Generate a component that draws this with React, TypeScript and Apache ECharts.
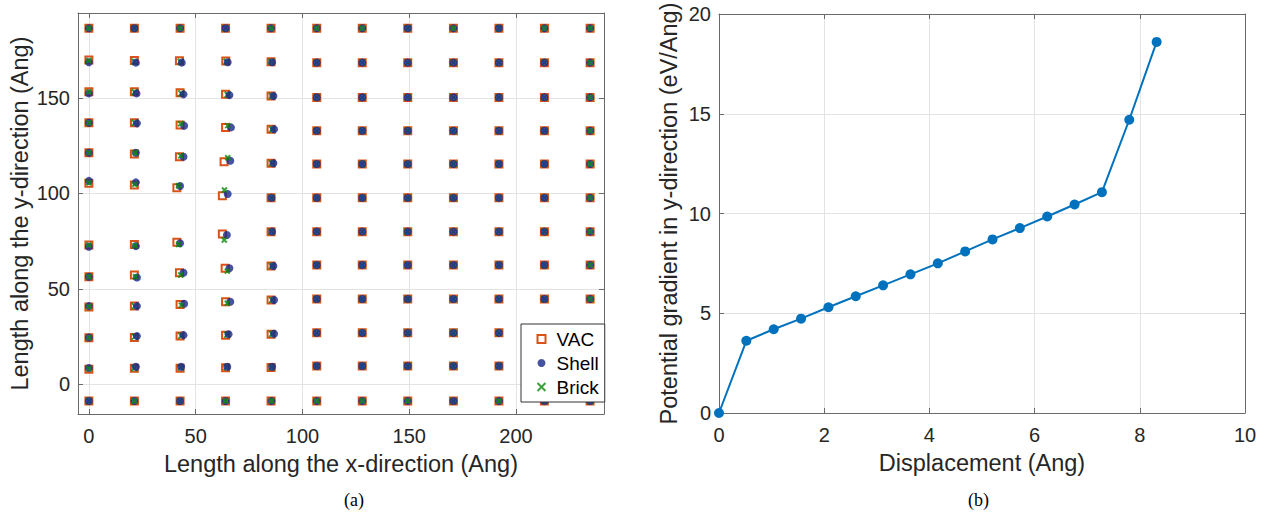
import React, { useEffect, useRef } from "react";
import * as echarts from "echarts";

// ---------- Panel (a): atom positions ----------
// Regular (undeformed) lattice columns and rows
const gridColX = [106.7, 128, 149.3, 170.7, 192, 213.3, 234.7];
const gridRowY = [-8.7, 9.6, 27, 44.7, 62.5, 80, 97.7, 115.4, 132.8, 150.3, 168.5, 186.5];

// Deformed region near the crack (first five columns), bottom row to top row
const vacLeft: number[][][] = [
  [[0, -8.7], [0, 7.9], [0, 24.4], [0, 40.6], [0, 56.4], [0, 73], [0, 105.3], [0, 121.3], [0, 137], [0, 153.3], [0, 169.9], [0, 186.5]],
  [[21.3, -8.7], [21.3, 8.4], [21.3, 24.6], [21.3, 41], [21.3, 57.3], [21.3, 73.3], [21.3, 104.4], [21.3, 120.6], [21.3, 137], [21.3, 153.3], [21.3, 169.6], [21.3, 186.5]],
  [[42.7, -8.7], [42.7, 8.4], [42.7, 25.3], [42.7, 41.9], [42.4, 58.5], [41.2, 74.4], [41.2, 103], [42.4, 119.2], [42.7, 135.8], [42.7, 152.7], [42.4, 169.5], [42.7, 186.5]],
  [[64, -8.7], [64, 8.7], [64, 25.8], [64, 43.3], [63.8, 60.8], [62.5, 78.7], [62.5, 98.8], [63.3, 116.6], [64, 134.6], [64, 151.9], [64.1, 169.4], [64, 186.5]],
  [[85.3, -8.7], [85.3, 8.9], [85.3, 26.3], [85.3, 44.2], [85.3, 62], [85.3, 80], [85.3, 97.7], [85.3, 115.8], [85.3, 133.6], [85.3, 151], [85.3, 169], [85.3, 186.5]],
];
const shellLeft: number[][][] = [
  [[0, -8.7], [0, 8.6], [0, 24.6], [0, 41], [0, 56.4], [0, 72.1], [0, 106.6], [0, 121.3], [0, 137], [0, 152.4], [0, 168.7], [0, 186.5]],
  [[21.3, -8.7], [22, 9.2], [22.5, 25.3], [22.5, 41], [22.5, 56], [22, 72.4], [22, 105.8], [22, 121.3], [22.5, 136.7], [22.3, 152.4], [22, 168.5], [21.3, 186.5]],
  [[42.7, -8.7], [43.2, 9.2], [44.3, 25.8], [44.6, 42.2], [44.3, 58.5], [42.7, 73.9], [42.7, 103.9], [44.3, 119.2], [44.6, 135.5], [44.3, 151.9], [43.5, 168.5], [42.7, 186.5]],
  [[64, -8.7], [64.8, 9.2], [65.4, 26.3], [66.2, 43.3], [65.8, 60.8], [64.6, 78.2], [65, 99.7], [66.2, 117.1], [66.5, 134.6], [65.8, 151.5], [65, 168.7], [64, 186.5]],
  [[85.5, -8.7], [85.8, 9.2], [86.7, 26.5], [86.7, 44.2], [86.4, 62], [85.8, 80], [85.5, 97.7], [86.4, 115.8], [86.7, 133.6], [86.4, 151], [85.8, 168.7], [85.3, 186.5]],
];
const brickLeft: number[][][] = [
  [[0, -8.7], [0, 8.2], [0, 24.5], [0, 40.8], [0, 56.4], [0, 73], [0, 105.6], [0, 121.3], [0, 137], [0, 153.2], [0, 169.6], [0, 186.5]],
  [[21.3, -8.7], [21.3, 8.6], [21.5, 25], [21.5, 41], [21.8, 56.4], [21.6, 72.6], [21.5, 104.8], [21.7, 121.3], [21.5, 137], [21.5, 153], [21.5, 169], [21.3, 186.5]],
  [[42.7, -8.7], [43, 8.8], [43.3, 25.5], [43.3, 41.5], [43, 57.3], [42, 73.3], [42, 104], [43, 119.7], [43, 136.5], [43.3, 152.3], [43, 169], [42.7, 186.5]],
  [[64, -8.7], [64.5, 9], [64.8, 26], [64.8, 42.5], [64.8, 59.3], [63.4, 75.6], [63.5, 101.8], [65, 118.7], [65, 135.5], [65, 151.7], [64.5, 169], [64, 186.5]],
  [[85.6, -8.7], [85.6, 9], [85.8, 26.4], [85.8, 44.2], [85.7, 62], [85.5, 80], [85.5, 97.7], [85.7, 115.8], [85.8, 133.6], [85.7, 151], [85.5, 169], [85.3, 186.5]],
];
// Lattice sites [column, row] where the Brick marker is seen on top
const brickOnTop: number[][] = [
  [0, 1], [0, 2], [0, 3], [0, 4], [0, 5], [0, 6], [0, 7], [0, 8], [0, 9], [0, 10], [0, 11],
  [1, 0], [1, 4], [1, 5], [1, 6], [1, 7],
  [2, 3], [2, 4], [2, 5], [2, 6], [2, 7], [2, 8], [2, 11],
  [3, 0], [3, 3], [3, 4], [3, 5], [3, 6], [3, 7], [3, 8],
  [4, 0], [4, 11], [5, 0], [5, 11], [6, 0], [6, 11], [7, 0], [8, 11], [9, 0], [10, 11],
  [11, 3], [11, 4], [11, 5], [11, 6], [11, 7], [11, 8], [11, 9], [11, 10], [11, 11],
];
const xTicksA = [0, 50, 100, 150, 200];
const yTicksA = [0, 50, 100, 150];

// ---------- Panel (b): potential gradient ----------
const displacement = [0, 0.52, 1.04, 1.56, 2.08, 2.6, 3.12, 3.64, 4.16, 4.68, 5.2, 5.72, 6.24, 6.76, 7.28, 7.8, 8.32];
const gradient = [0, 3.62, 4.2, 4.73, 5.3, 5.85, 6.4, 6.95, 7.5, 8.1, 8.7, 9.27, 9.85, 10.45, 11.07, 14.7, 18.6];

function latticePoints(left: number[][][]) {
  const pts: { c: number; r: number; v: number[] }[] = [];
  left.forEach((col, c) => col.forEach((p, r) => pts.push({ c, r, v: p })));
  gridColX.forEach((x, i) => gridRowY.forEach((y, r) => pts.push({ c: i + left.length, r, v: [x, y] })));
  return pts;
}

const FONT = "Liberation Sans";
const TXT = "#262626";
const BOX = "#6a6a6a";
const GRIDC = "#e3e3e3";

export default function App() {
  const ref = useRef<HTMLDivElement>(null);
  useEffect(() => {
    if (!ref.current) return;
    const chart = echarts.init(ref.current, undefined, { renderer: "svg" });

    const vac = latticePoints(vacLeft).map((p) => p.v);
    const shell = latticePoints(shellLeft).map((p) => p.v);
    const topKeys = new Set(brickOnTop.map(([c, r]) => c + "-" + r));
    const brickAll = latticePoints(brickLeft);
    const brickBottom = brickAll.filter((p) => !topKeys.has(p.c + "-" + p.r)).map((p) => p.v);
    const brickTop = brickAll.filter((p) => topKeys.has(p.c + "-" + p.r)).map((p) => p.v);

    const labelStyle = { fontFamily: FONT, fontSize: 20, color: TXT };
    const nameStyle = { fontFamily: FONT, fontSize: 23.5, color: TXT };
    const line = { show: true, lineStyle: { color: BOX, width: 1 } };

    const mkX = (grid: number, pos: string, min: number, max: number, extra: any) => ({
      type: "value", gridIndex: grid, position: pos, min, max,
      axisLine: { ...line, onZero: false },
      ...extra,
    });

    const xCustomA = (shown: boolean) => ({
      axisTick: { show: true, inside: true, length: 5, customValues: xTicksA, lineStyle: { color: BOX } },
      axisLabel: { show: shown, customValues: xTicksA, margin: 12, ...labelStyle },
      splitLine: { show: shown, lineStyle: { color: GRIDC, width: 1 } },
    });
    const yCustomA = (shown: boolean) => ({
      axisTick: { show: true, inside: true, length: 5, customValues: yTicksA, lineStyle: { color: BOX } },
      axisLabel: { show: shown, customValues: yTicksA, margin: 8, ...labelStyle },
      splitLine: { show: shown, lineStyle: { color: GRIDC, width: 1 } },
    });
    const stdAxis = (shown: boolean, interval: number, margin: number) => ({
      interval,
      axisTick: { show: true, inside: true, length: 5, lineStyle: { color: BOX } },
      axisLabel: { show: shown, margin, ...labelStyle },
      splitLine: { show: shown, lineStyle: { color: GRIDC, width: 1 } },
    });

    const crossPath = "path://M0,0L10,10M0,10L10,0";

    chart.setOption({
      animation: false,
      backgroundColor: "#ffffff",
      grid: [
        { left: 78, top: 13, width: 526, height: 401 },
        { left: 719, top: 14, width: 526, height: 399 },
      ],
      xAxis: [
        mkX(0, "bottom", -5.1, 241.2, {
          ...xCustomA(true),
          name: "Length along the x-direction (Ang)", nameLocation: "middle", nameGap: 38, nameTextStyle: nameStyle,
        }),
        mkX(0, "top", -5.1, 241.2, xCustomA(false)),
        mkX(1, "bottom", 0, 10, {
          ...stdAxis(true, 2, 12),
          name: "Displacement (Ang)", nameLocation: "middle", nameGap: 38, nameTextStyle: nameStyle,
        }),
        mkX(1, "top", 0, 10, stdAxis(false, 2, 12)),
      ],
      yAxis: [
        mkX(0, "left", -15.5, 194.5, {
          ...yCustomA(true),
          name: "Length along the y-direction (Ang)", nameLocation: "middle", nameGap: 46, nameRotate: 90, nameTextStyle: nameStyle,
        }),
        mkX(0, "right", -15.5, 194.5, yCustomA(false)),
        mkX(1, "left", 0, 20, {
          ...stdAxis(true, 5, 8),
          name: "Potential gradient in y-direction (eV/Ang)", nameLocation: "middle", nameGap: 38, nameRotate: 90, nameTextStyle: nameStyle,
        }),
        mkX(1, "right", 0, 20, stdAxis(false, 5, 8)),
      ],
      legend: {
        data: ["VAC", "Shell", "Brick"],
        orient: "vertical",
        left: 521, top: 324,
        padding: [5, 6, 5, 14],
        itemWidth: 8, itemHeight: 8, itemGap: 4,
        backgroundColor: "#ffffff",
        borderColor: "#333333", borderWidth: 1, borderRadius: 0,
        textStyle: { fontFamily: FONT, fontSize: 19, color: "#000000", lineHeight: 20, padding: [0, 0, 0, 6] },
        z: 20,
      },
      graphic: [
        { type: "text", left: 344, top: 491, style: { text: "(a)", font: '18px "Liberation Serif"', fill: "#000" } },
        { type: "text", left: 968, top: 491, style: { text: "(b)", font: '18px "Liberation Serif"', fill: "#000" } },
      ],
      series: [
        {
          name: "VAC", type: "scatter", xAxisIndex: 0, yAxisIndex: 0, data: vac, z: 2,
          symbol: "rect", symbolSize: 7,
          itemStyle: { color: "#ffffff", borderColor: "#d95319", borderWidth: 2, opacity: 1 },
        },
        {
          name: "Brick", type: "scatter", xAxisIndex: 0, yAxisIndex: 0, data: brickBottom, z: 3,
          symbol: crossPath, symbolSize: 6,
          itemStyle: { color: "none", borderColor: "#0a8a0a", borderWidth: 2 },
        },
        {
          name: "Shell", type: "scatter", xAxisIndex: 0, yAxisIndex: 0, data: shell, z: 4,
          symbol: "circle", symbolSize: 8,
          itemStyle: { color: "#18288c" },
        },
        {
          name: "Brick", type: "scatter", xAxisIndex: 0, yAxisIndex: 0, data: brickTop, z: 5,
          symbol: crossPath, symbolSize: 5,
          itemStyle: { color: "none", borderColor: "#0a8a0a", borderWidth: 2 },
        },
        {
          name: "gradient", type: "line", xAxisIndex: 2, yAxisIndex: 2,
          data: displacement.map((x, i) => [x, gradient[i]]),
          symbol: "circle", symbolSize: 10, showSymbol: true,
          lineStyle: { color: "#0072bd", width: 2 },
          itemStyle: { color: "#0072bd" },
        },
      ],
    });
    return () => chart.dispose();
  }, []);
  return <div ref={ref} style={{ position: "fixed", left: 0, top: 0, width: 1270, height: 518 }} />;
}
